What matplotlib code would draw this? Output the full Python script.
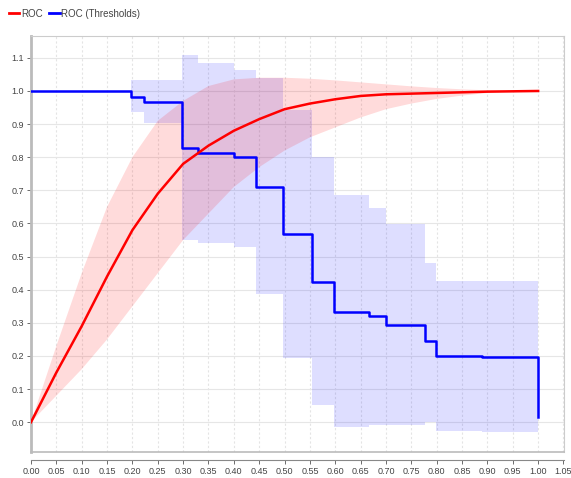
import matplotlib
matplotlib.use("Agg")
import matplotlib.pyplot as plt
import matplotlib.transforms as mtransforms
from matplotlib.lines import Line2D
import numpy as np

plt.rcParams['font.family'] = ['Liberation Sans', 'DejaVu Sans']

# ROC curve (averaged) with band
roc_x = [0.0, 0.05, 0.10, 0.15, 0.20, 0.25, 0.30, 0.35, 0.40, 0.45, 0.50,
         0.55, 0.60, 0.65, 0.70, 0.75, 0.80, 0.85, 0.90, 0.95, 1.0]
roc_y = [0.0, 0.15, 0.29, 0.44, 0.58, 0.69, 0.78, 0.835, 0.88, 0.915, 0.945,
         0.962, 0.975, 0.985, 0.99, 0.992, 0.994, 0.996, 0.998, 0.999, 1.0]
roc_upper = [0.0, 0.23, 0.45, 0.65, 0.80, 0.91, 0.97, 1.015, 1.035, 1.04, 1.04,
             1.037, 1.032, 1.026, 1.02, 1.014, 1.009, 1.005, 1.002, 1.0, 1.0]
roc_lower = [0.0, 0.08, 0.16, 0.25, 0.35, 0.45, 0.55, 0.63, 0.71, 0.77, 0.82,
             0.86, 0.89, 0.92, 0.945, 0.962, 0.976, 0.986, 0.994, 0.999, 1.0]

# ROC (Thresholds) step curve with band
thr_x = [0.0, 0.198, 0.222, 0.298, 0.33, 0.40, 0.443, 0.497, 0.554, 0.598,
         0.667, 0.70, 0.777, 0.799, 0.89, 1.0]
thr_y = [1.0, 0.983, 0.967, 0.828, 0.813, 0.80, 0.71, 0.568, 0.423, 0.332,
         0.32, 0.293, 0.245, 0.20, 0.196, 0.015]
thr_upper = [1.0, 1.033, 1.033, 1.109, 1.085, 1.063, 1.04, 0.943, 0.80, 0.686,
             0.646, 0.598, 0.48, 0.426, 0.425, 0.425]
thr_lower = [1.0, 0.937, 0.903, 0.55, 0.54, 0.53, 0.387, 0.195, 0.051, -0.016,
             -0.007, -0.007, 0.0, -0.027, -0.03, -0.03]

x_ticks = [round(0.05 * i, 2) for i in range(22)]
y_ticks = [round(0.1 * i, 1) for i in range(12)]

fig = plt.figure(figsize=(5.71, 4.78), dpi=100)
ax = fig.add_axes([31/571, 1-452/478, (564-31)/571, (452-36)/478])

ax.fill_between(thr_x, thr_lower, thr_upper, step='post',
                facecolor=(0, 0, 1, 0.13), edgecolor='none', zorder=2)
ax.fill_between(roc_x, roc_lower, roc_upper,
                facecolor=(1, 0, 0, 0.14), edgecolor='none', zorder=3)
ax.plot(thr_x, thr_y, drawstyle='steps-post', color='#0000ff', lw=1.8, zorder=4)
ax.plot(roc_x, roc_y, color='#ff0000', lw=1.8, zorder=5)

ax.set_xlim(0, 1.051)
ax.set_ylim(-0.09, 1.166)
ax.set_xticks(x_ticks)
ax.set_xticklabels([f"{v:.2f}" for v in x_ticks])
ax.set_yticks(y_ticks)
ax.set_yticklabels([f"{v:.1f}" for v in y_ticks])

for v in x_ticks[1:]:
    ax.axvline(v, color='#e4e4e4', lw=0.8, ls=(0, (2, 2)), zorder=1)
for v in y_ticks:
    ax.axhline(v, color='#e6e6e6', lw=0.8, zorder=1)

ax.tick_params(axis='both', labelsize=6.5, colors='#555555', length=3,
               width=0.6, pad=2)
ax.tick_params(axis='x', labelcolor='#444444')
ax.tick_params(axis='y', labelcolor='#444444')

last = ax.get_xticklabels()[-1]
last.set_transform(last.get_transform() +
                   mtransforms.ScaledTranslation(-4/100, 0, fig.dpi_scale_trans))

for s in ['top', 'right']:
    ax.spines[s].set_color('#cccccc')
    ax.spines[s].set_linewidth(0.8)
ax.spines['left'].set_color('#bbbbbb')
ax.spines['left'].set_linewidth(2.0)
ax.spines['bottom'].set_position(('outward', 6))
ax.spines['bottom'].set_color('#888888')
ax.spines['bottom'].set_linewidth(0.8)
ax.add_line(Line2D([0, 1], [0, 0], transform=ax.transAxes, color='#bbbbbb',
                   lw=1.2, clip_on=False, zorder=6))

handles = [Line2D([], [], color='#ff0000', lw=2),
           Line2D([], [], color='#0000ff', lw=2)]
fig.legend(handles, ['ROC', 'ROC (Thresholds)'], loc='upper left',
           bbox_to_anchor=(0.0, 1.0), ncol=2, frameon=False, fontsize=7,
           handlelength=1.1, handletextpad=0.2, columnspacing=0.6,
           labelcolor='#444444', borderaxespad=0.5)

fig.savefig('out.png', dpi=100)
